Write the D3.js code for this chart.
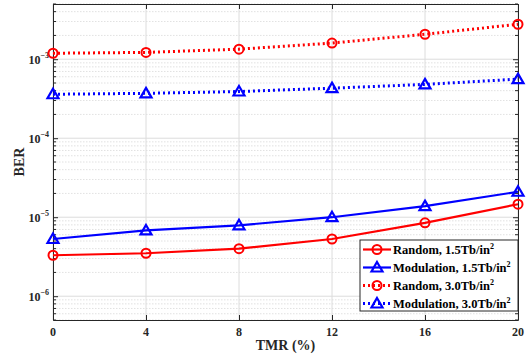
<!DOCTYPE html>
<html>
<head>
<meta charset="utf-8">
<script src="https://cdn.jsdelivr.net/npm/d3@7"></script>
<style>
  body { margin: 0; background: #fff; }
  svg { font-family: "Liberation Serif", "Times New Roman", serif; font-weight: bold; }
</style>
</head>
<body>
<svg id="chart" width="528" height="359"></svg>
<script>
// data
var tmr = [0, 4, 8, 12, 16, 20];
var random15 = [3.3e-6, 3.5e-6, 4.0e-6, 5.3e-6, 8.5e-6, 1.46e-5];
var modulation15 = [5.3e-6, 6.8e-6, 7.9e-6, 1.0e-5, 1.38e-5, 2.1e-5];
var random30 = [1.19e-3, 1.22e-3, 1.34e-3, 1.6e-3, 2.07e-3, 2.77e-3];
var modulation30 = [3.6e-4, 3.7e-4, 3.9e-4, 4.3e-4, 4.8e-4, 5.6e-4];
var yTicks = [-6, -5, -4, -3];
var seriesNames = ["Random, 1.5Tb/in", "Modulation, 1.5Tb/in", "Random, 3.0Tb/in", "Modulation, 3.0Tb/in"];

var series = [
    { name: seriesNames[0], values: random15, color: "#ff0000", marker: "circle", dash: null },
    { name: seriesNames[1], values: modulation15, color: "#0000ff", marker: "triangle", dash: null },
    { name: seriesNames[2], values: random30, color: "#ff0000", marker: "circle", dash: "2,3" },
    { name: seriesNames[3], values: modulation30, color: "#0000ff", marker: "triangle", dash: "2,3" }
];

var width = 528;
var height = 359;
var margin = { top: 4, right: 10, bottom: 39, left: 53 };

var x = d3.scaleLinear()
    .domain([0, 20])
    .range([margin.left, width - margin.right]);

var y = d3.scaleLog()
    .domain([5e-7, 5e-3])
    .range([height - margin.bottom, margin.top]);

var svg = d3.select("#chart");

// minor values on the log axis
var minor = [];
[-7, -6, -5, -4, -3].forEach(function (e) {
    for (var k = 2; k <= 9; k++) {
        var v = k * Math.pow(10, e);
        if (v >= 5e-7 && v <= 5e-3) minor.push(v);
    }
});

var grid = svg.append("g");
grid.selectAll(".minor")
    .data(minor)
    .join("line")
    .attr("x1", x(0)).attr("x2", x(20))
    .attr("y1", function (d) { return y(d); })
    .attr("y2", function (d) { return y(d); })
    .attr("stroke", "#d9d9d9")
    .attr("stroke-width", 0.8)
    .attr("stroke-dasharray", "1.5,1.5");

grid.selectAll(".majory")
    .data(yTicks)
    .join("line")
    .attr("x1", x(0)).attr("x2", x(20))
    .attr("y1", function (d) { return y(Math.pow(10, d)); })
    .attr("y2", function (d) { return y(Math.pow(10, d)); })
    .attr("stroke", "#dcdcdc")
    .attr("stroke-width", 1);

grid.selectAll(".majorx")
    .data(tmr)
    .join("line")
    .attr("x1", function (d) { return x(d); })
    .attr("x2", function (d) { return x(d); })
    .attr("y1", y(5e-7)).attr("y2", y(5e-3))
    .attr("stroke", "#dcdcdc")
    .attr("stroke-width", 1);

// axes (ticks inside, MATLAB style)
var axisColor = "#262626";
var yVals = yTicks.map(function (d) { return Math.pow(10, d); });

svg.append("g")
    .attr("transform", "translate(0," + (height - margin.bottom) + ")")
    .call(d3.axisBottom(x).tickValues(tmr).tickSizeInner(-5).tickSizeOuter(0).tickFormat(""))
    .call(function (g) { g.selectAll("line, path").attr("stroke", axisColor); });

svg.append("g")
    .attr("transform", "translate(0," + margin.top + ")")
    .call(d3.axisTop(x).tickValues(tmr).tickSizeInner(-5).tickSizeOuter(0).tickFormat(""))
    .call(function (g) { g.selectAll("line, path").attr("stroke", axisColor); });

svg.append("g")
    .attr("transform", "translate(" + margin.left + ",0)")
    .call(d3.axisLeft(y).tickValues(yVals).tickSizeInner(-5).tickSizeOuter(0).tickFormat(""))
    .call(function (g) { g.selectAll("line, path").attr("stroke", axisColor); })
    .call(function (g) {
        g.selectAll(".minor")
            .data(minor).join("line").attr("class", "minor")
            .attr("x2", 3).attr("y1", function (d) { return y(d); }).attr("y2", function (d) { return y(d); })
            .attr("stroke", axisColor);
    });

svg.append("g")
    .attr("transform", "translate(" + (width - margin.right) + ",0)")
    .call(d3.axisRight(y).tickValues(yVals).tickSizeInner(-5).tickSizeOuter(0).tickFormat(""))
    .call(function (g) { g.selectAll("line, path").attr("stroke", axisColor); })
    .call(function (g) {
        g.selectAll(".minor")
            .data(minor).join("line").attr("class", "minor")
            .attr("x2", -3).attr("y1", function (d) { return y(d); }).attr("y2", function (d) { return y(d); })
            .attr("stroke", axisColor);
    });

// tick labels
svg.append("g")
    .selectAll("text")
    .data(tmr)
    .join("text")
    .attr("x", function (d) { return x(d); })
    .attr("y", height - margin.bottom + 15.5)
    .attr("text-anchor", "middle")
    .attr("font-size", "12px")
    .attr("fill", "#262626")
    .text(function (d) { return d; });

var yl = svg.append("g")
    .selectAll("text")
    .data(yTicks)
    .join("text")
    .attr("x", margin.left - 4)
    .attr("y", function (d) { return y(Math.pow(10, d)) + 5; })
    .attr("text-anchor", "end")
    .attr("font-size", "12px")
    .attr("fill", "#262626");
yl.append("tspan").text("10");
yl.append("tspan").attr("dy", -6).attr("font-size", "8px").text(function (d) { return "\u2212" + Math.abs(d); });

svg.append("text")
    .attr("x", (margin.left + width - margin.right) / 2)
    .attr("y", height - 9)
    .attr("text-anchor", "middle")
    .attr("font-size", "14px")
    .attr("fill", "#262626")
    .text("TMR (%)");

svg.append("text")
    .attr("transform", "translate(24," + ((margin.top + height - margin.bottom) / 2) + ") rotate(-90)")
    .attr("text-anchor", "middle")
    .attr("font-size", "14px")
    .attr("fill", "#262626")
    .text("BER");

// markers
function drawMarker(g, type, color) {
    if (type === "circle") {
        g.append("circle").attr("r", 4.5)
            .attr("fill", "none").attr("stroke", color).attr("stroke-width", 2);
    } else {
        g.append("path").attr("d", "M0,-5.5L5.5,4L-5.5,4Z")
            .attr("fill", "none").attr("stroke", color).attr("stroke-width", 2.2);
    }
}

var line = d3.line()
    .x(function (d, i) { return x(tmr[i]); })
    .y(function (d) { return y(d); });

series.forEach(function (s) {
    svg.append("path")
        .datum(s.values)
        .attr("d", line)
        .attr("fill", "none")
        .attr("stroke", s.color)
        .attr("stroke-width", s.dash ? 3 : 2.2)
        .attr("stroke-dasharray", s.dash);
    s.values.forEach(function (v, i) {
        var g = svg.append("g").attr("transform", "translate(" + x(tmr[i]) + "," + y(v) + ")");
        drawMarker(g, s.marker, s.color);
    });
});

// legend
var lx = 360, ly = 240, lw = width - margin.right - lx, lh = 71;
svg.append("rect")
    .attr("x", lx).attr("y", ly).attr("width", lw).attr("height", lh)
    .attr("fill", "#fff").attr("stroke", axisColor).attr("stroke-width", 1);

series.forEach(function (s, i) {
    var cy = ly + 9.5 + i * 18;
    var g = svg.append("g");
    g.append("line")
        .attr("x1", lx + 3).attr("x2", lx + 31)
        .attr("y1", cy).attr("y2", cy)
        .attr("stroke", s.color)
        .attr("stroke-width", s.dash ? 3 : 2.2)
        .attr("stroke-dasharray", s.dash);
    drawMarker(g.append("g").attr("transform", "translate(" + (lx + 17) + "," + cy + ")"), s.marker, s.color);
    var t = g.append("text")
        .attr("x", lx + 33).attr("y", cy + 4.5)
        .attr("font-size", "12.5px")
        .attr("fill", "#000");
    t.append("tspan").text(s.name);
    t.append("tspan").attr("dy", -5).attr("font-size", "8px").text("2");
});
</script>
</body>
</html>
